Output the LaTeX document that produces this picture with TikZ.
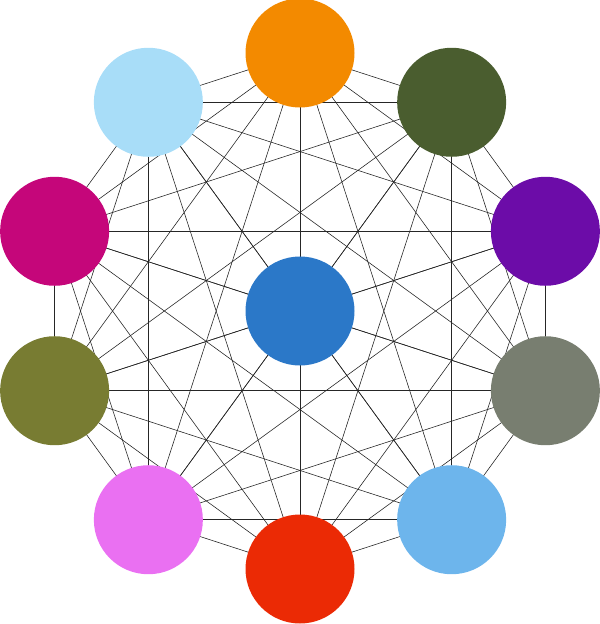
\documentclass[tikz,border=0pt]{standalone}
\usetikzlibrary{backgrounds}

\definecolor{cOrange}{HTML}{F38A00}
\definecolor{cForest}{HTML}{4A5D2F}
\definecolor{cPurple}{HTML}{6C0CA8}
\definecolor{cGray}{HTML}{787E70}
\definecolor{cSky}{HTML}{6DB5EC}
\definecolor{cRed}{HTML}{EB2A05}
\definecolor{cPink}{HTML}{EA70F2}
\definecolor{cOlive}{HTML}{787C32}
\definecolor{cMagenta}{HTML}{C5067A}
\definecolor{cIce}{HTML}{A8DDF8}
\definecolor{cCenter}{HTML}{2B78C8}

\begin{document}
\begin{tikzpicture}[x=0.03cm,y=-0.03cm]
  \tikzstyle{vertex}=[circle,minimum size=3.27cm,inner sep=0pt]
  \tikzstyle{edge}=[line width=0.5pt,black!85]

  \useasboundingbox (0,0) rectangle (600,624);

  \node [vertex,fill=cCenter] (c) at (300,311) {};
  \foreach \i/\ang/\col in {1/90/cOrange,2/54/cForest,3/18/cPurple,4/-18/cGray,
      5/-54/cSky,6/-90/cRed,7/-126/cPink,8/-162/cOlive,9/162/cMagenta,10/126/cIce}
    \node [vertex,fill=\col] (v\i) at ({300+258*cos(\ang)},{311-258*sin(\ang)}) {};

  % edges go behind the circles
  \begin{pgfonlayer}{background}
    \foreach \i in {1,...,10}
      \draw[edge] (c.center) -- (v\i.center);
    \foreach \i in {1,...,9} {
      \pgfmathtruncatemacro{\next}{\i+1}
      \foreach \j in {\next,...,10}
        \draw[edge] (v\i.center) -- (v\j.center);
    }
  \end{pgfonlayer}
\end{tikzpicture}
\end{document}
